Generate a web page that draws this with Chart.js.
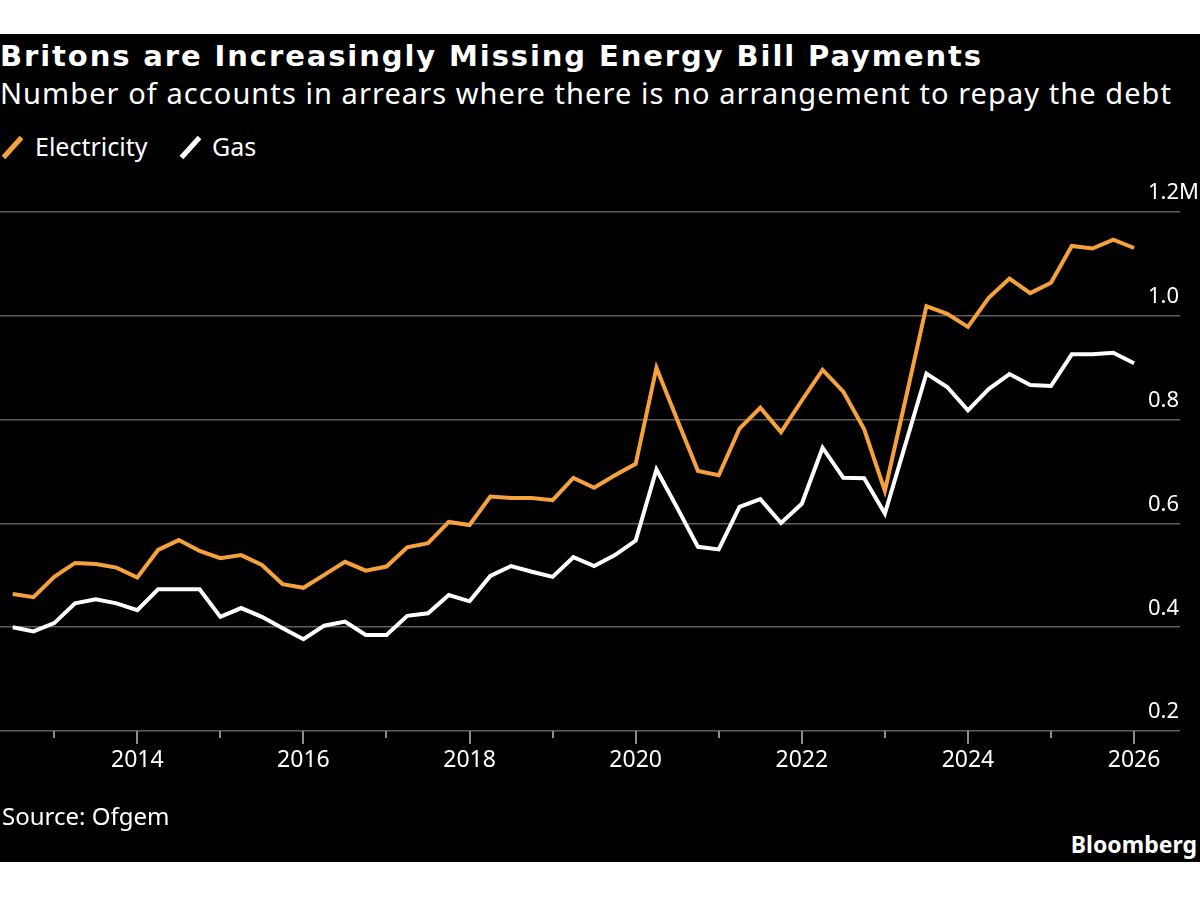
<!DOCTYPE html>
<html>
<head>
<meta charset="utf-8">
<script src="https://cdn.jsdelivr.net/npm/chart.js@4/dist/chart.umd.min.js"></script>
<style>
  body { margin: 0; background: #fff; width: 1200px; height: 900px; position: relative; overflow: hidden; }
  #panel { position: absolute; left: 0; top: 34px; width: 1200px; height: 828px; background: #000; }
  .txt { position: absolute; color: #fff; white-space: nowrap; line-height: normal; }
  #title { left: 0; top: 39px; font: bold 29px "DejaVu Sans"; }
  #subtitle { left: 0; top: 73px; font: 29px "Noto Sans"; }
  #legend { position: absolute; left: 0; top: 129px; font: 25px "Noto Sans"; color: #fff; }
  .item { position: absolute; white-space: nowrap; }
  .slash { position: absolute; width: 5px; height: 27px; transform: rotate(42deg); }
  #source { left: 2px; top: 799px; font: 24px "Noto Sans"; }
  #brand { right: 3px; top: 828px; font: bold 23px "Noto Sans"; }
  canvas { position: absolute; left: 0; top: 180px; }
</style>
</head>
<body>
<div id="panel"></div>
<div class="txt" id="title" data-w="983">Britons are Increasingly Missing Energy Bill Payments</div>
<div class="txt" id="subtitle" data-w="1172">Number of accounts in arrears where there is no arrangement to repay the debt</div>
<div id="legend"></div>
<canvas id="chart" width="1200" height="620"></canvas>
<div class="txt" id="source">Source: Ofgem</div>
<div class="txt" id="brand">Bloomberg</div>
<script>
// quarterly readings, millions of accounts
const periods = [
  "2012-07", "2012-10",
  "2013-01", "2013-04", "2013-07", "2013-10",
  "2014-01", "2014-04", "2014-07", "2014-10",
  "2015-01", "2015-04", "2015-07", "2015-10",
  "2016-01", "2016-04", "2016-07", "2016-10",
  "2017-01", "2017-04", "2017-07", "2017-10",
  "2018-01", "2018-04", "2018-07", "2018-10",
  "2019-01", "2019-04", "2019-07", "2019-10",
  "2020-01", "2020-04", "2020-07", "2020-10",
  "2021-01", "2021-04", "2021-07", "2021-10",
  "2022-01", "2022-04", "2022-07", "2022-10",
  "2023-01", "2023-04", "2023-07", "2023-10",
  "2024-01", "2024-04", "2024-07", "2024-10",
  "2025-01", "2025-04", "2025-07", "2025-10",
  "2026-01",
];

const electricity = [
  0.464, 0.458,
  0.497, 0.524, 0.522, 0.515,
  0.496, 0.549, 0.568, 0.547,
  0.533, 0.539, 0.520, 0.483,
  0.476, 0.501, 0.526, 0.509,
  0.517, 0.554, 0.562, 0.603,
  0.597, 0.652, 0.649, 0.649,
  0.645, 0.688, 0.669, 0.693,
  0.715, 0.900, 0.800, 0.701,
  0.693, 0.783, 0.823, 0.776,
  0.837, 0.896, 0.854, 0.782,
  0.663, 0.840, 1.019, 1.004,
  0.979, 1.035, 1.072, 1.044,
  1.064, 1.135, 1.130, 1.147,
  1.131,
];

const gas = [
  0.400, 0.392,
  0.408, 0.446, 0.454, 0.446,
  0.433, 0.473, 0.473, 0.473,
  0.420, 0.437, 0.420, 0.398,
  0.377, 0.403, 0.411, 0.385,
  0.385, 0.422, 0.427, 0.462,
  0.450, 0.499, 0.518, 0.507,
  0.497, 0.535, 0.518, 0.539,
  0.567, 0.704, 0.630, 0.555,
  0.550, 0.632, 0.647, 0.601,
  0.638, 0.746, 0.688, 0.687,
  0.619, 0.754, 0.889, 0.863,
  0.818, 0.859, 0.888, 0.867,
  0.865, 0.926, 0.926, 0.929,
  0.909,
];

const seriesNames = ["Electricity", "Gas"];
const seriesColors = ["#f5a23c", "#ffffff"];

const labelYears = [2014, 2016, 2018, 2020, 2022, 2024, 2026];
const tickYears = [2013, 2014, 2015, 2016, 2017, 2018, 2019, 2020, 2021, 2022, 2023, 2024, 2025, 2026];

const toYear = (s) => +s.slice(0, 4) + (+s.slice(5, 7) - 1) / 12;

// stretch headline text to the reference widths
document.querySelectorAll("[data-w]").forEach((el) => {
  const target = +el.dataset.w;
  const n = el.textContent.length;
  const w = el.getBoundingClientRect().width;
  el.style.letterSpacing = (target - w) / n + "px";
});

// legend
const legend = document.getElementById("legend");
const legendX = [[2, 35], [180, 212]];
seriesNames.forEach((name, i) => {
  const s = document.createElement("div");
  s.className = "slash";
  s.style.background = seriesColors[i];
  s.style.left = legendX[i][0] + 8 + "px";
  s.style.top = "5px";
  legend.appendChild(s);
  const t = document.createElement("div");
  t.className = "item";
  t.style.left = legendX[i][1] + "px";
  t.textContent = name;
  legend.appendChild(t);
});

const tickMarks = {
  id: "tickMarks",
  afterDraw(chart) {
    const ctx = chart.ctx;
    const x = chart.scales.x;
    const bottom = chart.chartArea.bottom;
    ctx.save();
    ctx.strokeStyle = "#8c8c8c";
    ctx.lineWidth = 2;
    tickYears.forEach((yr) => {
      const px = Math.round(x.getPixelForValue(yr));
      ctx.beginPath();
      ctx.moveTo(px, bottom);
      ctx.lineTo(px, bottom + (yr % 2 === 0 ? 13 : 7));
      ctx.stroke();
    });
    ctx.restore();
  },
};

const data = {
  datasets: [electricity, gas].map((vals, i) => ({
    label: seriesNames[i],
    data: vals.map((v, j) => ({ x: toYear(periods[j]), y: v })),
    borderColor: seriesColors[i],
    borderWidth: 4,
    pointRadius: 0,
    tension: 0,
    fill: false,
  })),
};

const options = {
  responsive: false,
  animation: false,
  layout: { padding: { top: 31, right: 20, bottom: 19, left: 0 } },
  plugins: {
    legend: { display: false },
    tooltip: { enabled: false },
  },
  scales: {
    x: {
      type: "linear",
      min: 2012.347,
      max: 2026.553,
      grid: { display: false, drawTicks: false },
      border: { display: false },
      afterBuildTicks: (s) => {
        s.ticks = labelYears.map((v) => ({ value: v }));
      },
      afterFit: (s) => {
        s.height = 50;
      },
      ticks: {
        color: "#ffffff",
        font: { family: "Noto Sans", size: 23 },
        padding: 16,
        maxRotation: 0,
        autoSkip: false,
        callback: (v) => String(v),
      },
    },
    y: {
      position: "right",
      min: 0.2,
      max: 1.2,
      afterFit: (s) => {
        s.width = 0;
      },
      grid: { color: "#5e5e5e", lineWidth: 1.5, drawTicks: false },
      border: { display: false },
      ticks: {
        stepSize: 0.2,
        mirror: true,
        crossAlign: "far",
        padding: 19,
        labelOffset: -19,
        color: "#ffffff",
        font: { family: "Noto Sans", size: 22 },
        callback: (v) => (Math.abs(v - 1.2) < 1e-6 ? "1.2M" : v.toFixed(1)),
      },
    },
  },
};

const chart = new Chart(document.getElementById("chart").getContext("2d"), {
  type: "line",
  data: data,
  options: options,
  plugins: [tickMarks],
});
</script>
</body>
</html>
